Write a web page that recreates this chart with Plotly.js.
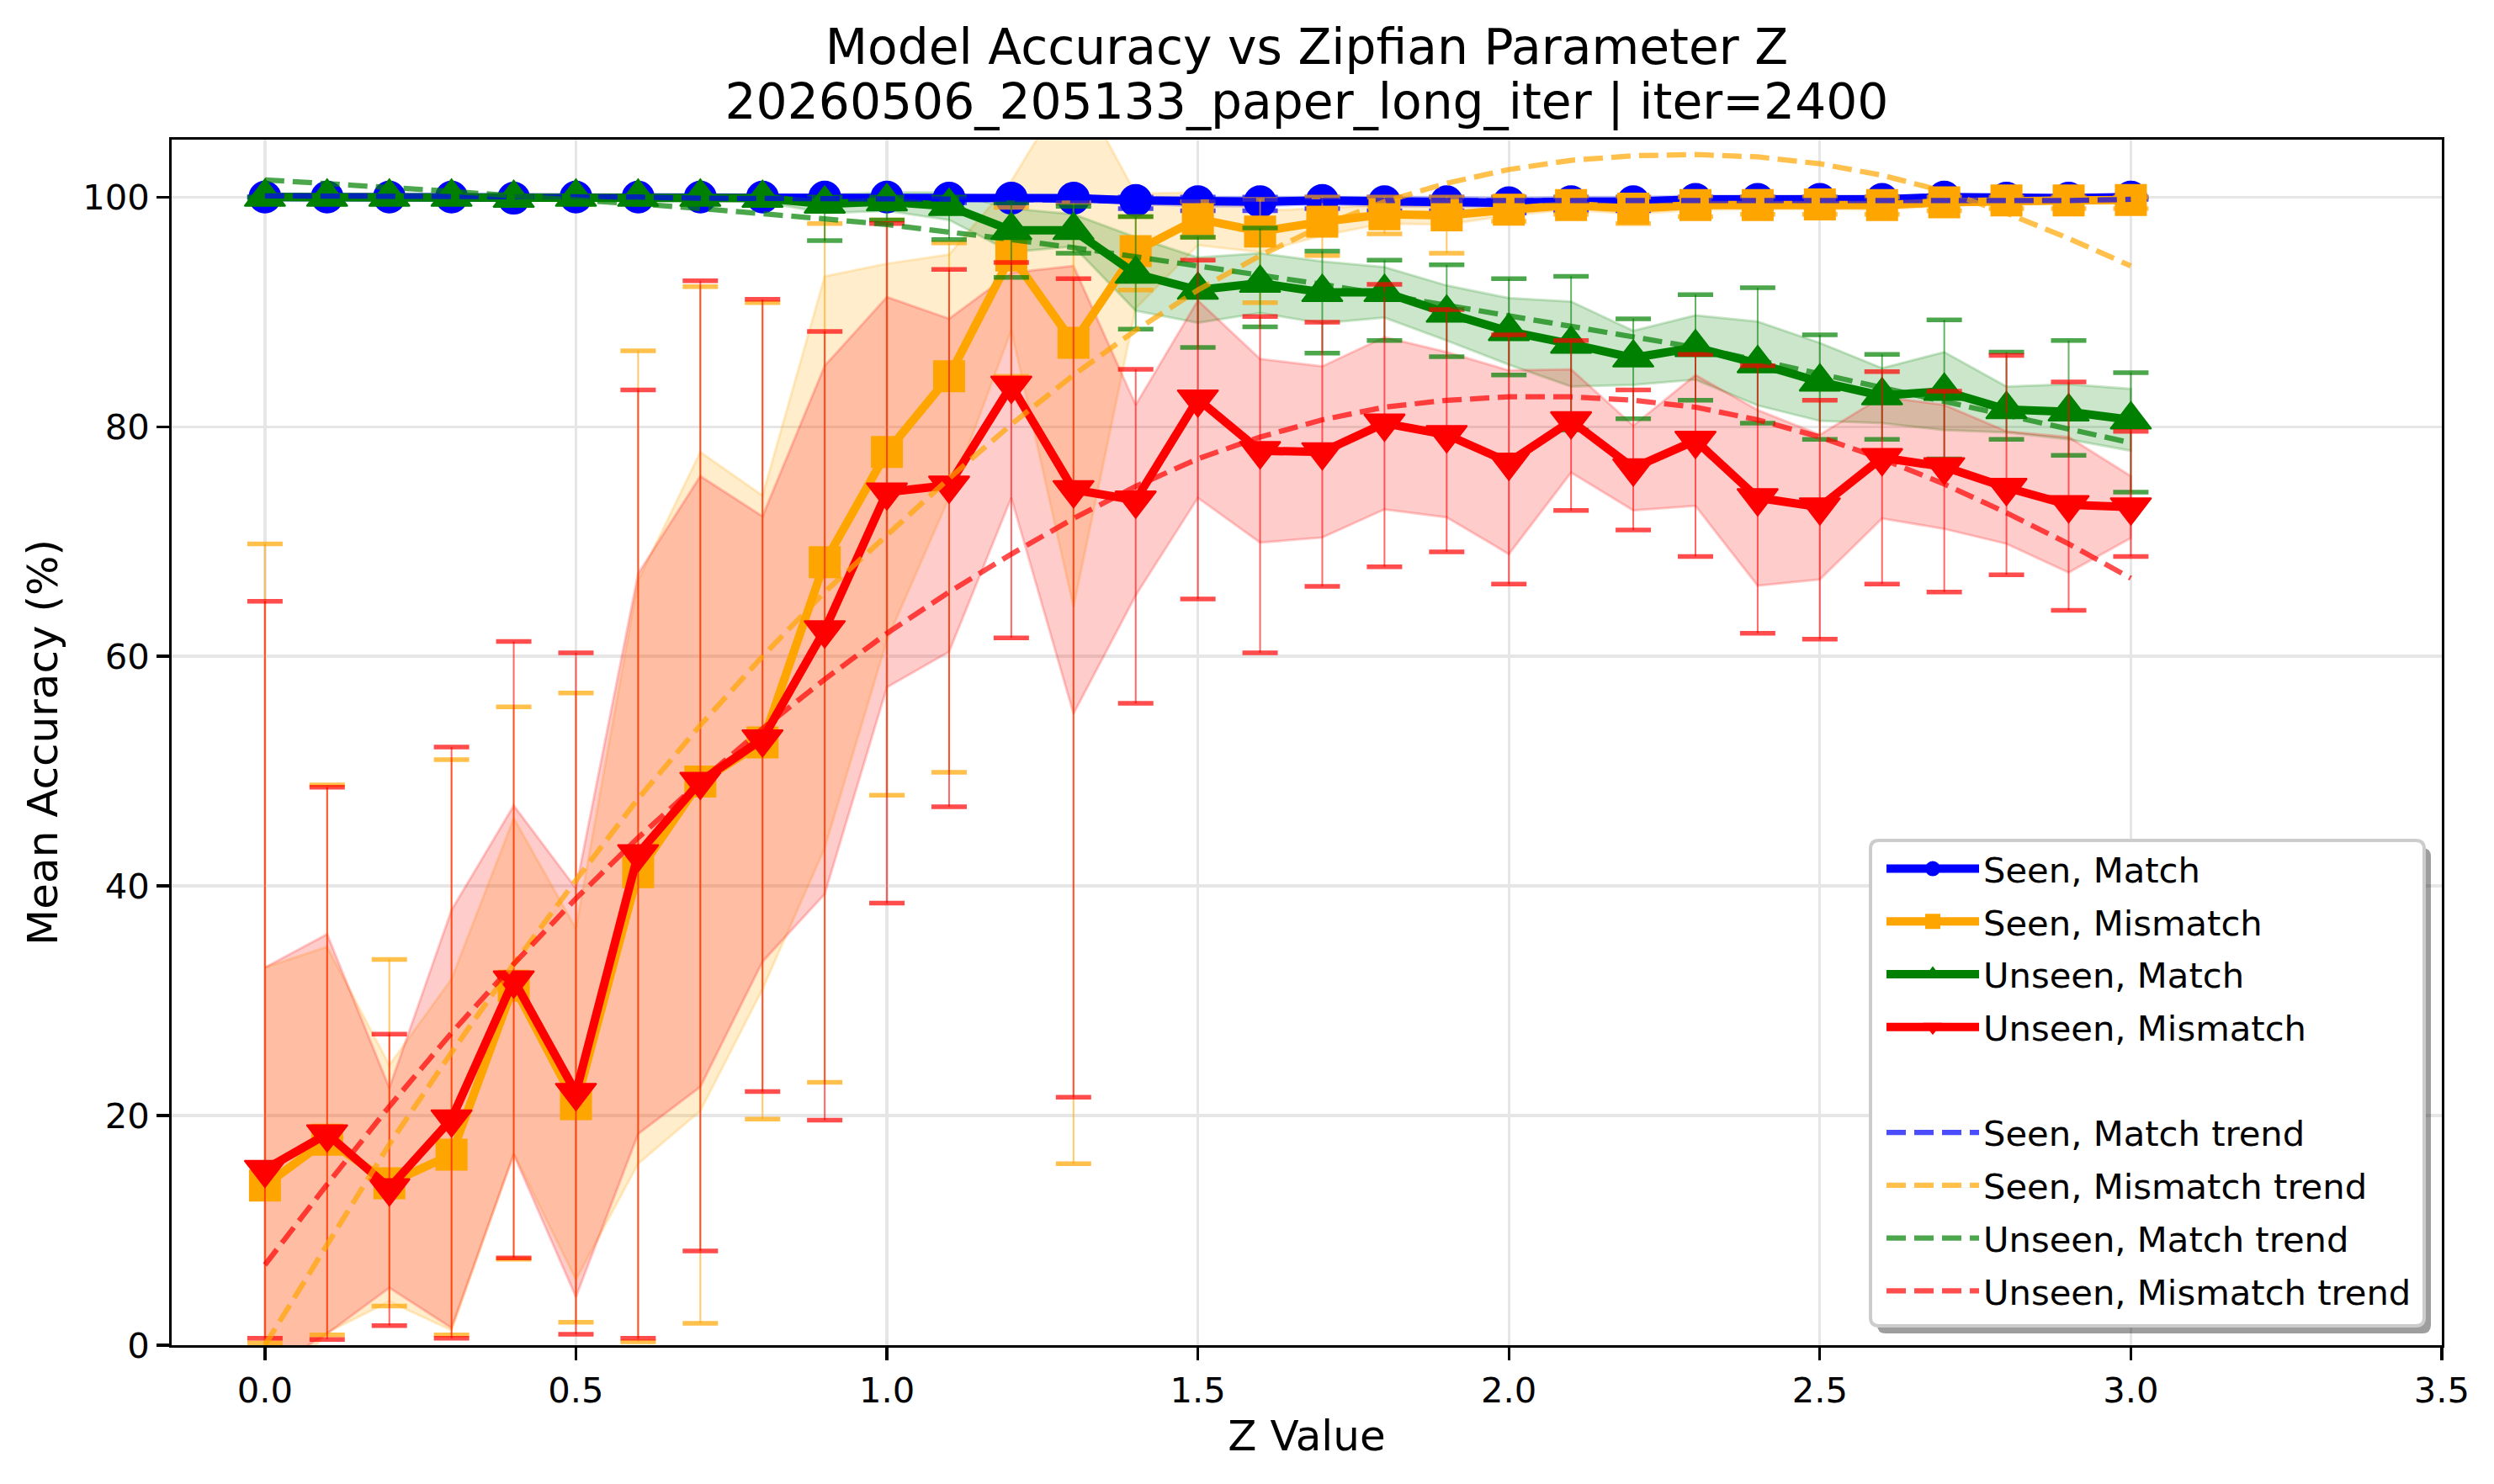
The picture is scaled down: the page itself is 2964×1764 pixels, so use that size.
<!DOCTYPE html>
<html>
<head>
<meta charset="utf-8">
<script src="https://cdn.plot.ly/plotly-3.0.1.min.js"></script>
<style>
  html, body { margin: 0; padding: 0; background: #ffffff; }
  #chart { width: 2964px; height: 1764px; }
</style>
</head>
<body>
<div id="chart"></div>
<script>
// ---------------- DATA ----------------
const zValues = [0.0,0.1,0.2,0.3,0.4,0.5,0.6,0.7,0.8,0.9,1.0,1.1,1.2,1.3,1.4,1.5,1.6,1.7,1.8,1.9,2.0,2.1,2.2,2.3,2.4,2.5,2.6,2.7,2.8,2.9,3.0];

const seriesNames = ["Seen, Match", "Seen, Mismatch", "Unseen, Match", "Unseen, Mismatch"];
const titleLine1 = "Model Accuracy vs Zipfian Parameter Z";
const titleLine2 = "20260506_205133_paper_long_iter | iter=2400";

// Seen, Match
const seenMatchMean = [100,100,100,100,99.9,100,100,100,100,100,100,99.9,99.9,99.9,99.7,99.6,99.6,99.7,99.6,99.6,99.5,99.6,99.6,99.8,99.8,99.8,99.8,100,99.9,99.9,100];
const seenMatchBand = [0,0,0,0,0.2,0,0,0,0,0,0,0.2,0.2,0.2,0.3,0.4,0.4,0.3,0.4,0.4,0.4,0.4,0.4,0.3,0.3,0.3,0.3,0.1,0.2,0.2,0.1];
const seenMatchMin  = [100,100,100,100,99.5,100,100,100,100,100,100,99.5,99.5,99.5,99.0,98.8,98.8,99.0,98.8,98.8,98.6,98.8,98.8,99.2,99.2,99.2,99.2,99.8,99.6,99.6,99.8];
const seenMatchMax  = [100,100,100,100,100,100,100,100,100,100,100,100,100,100,100,100,100,100,100,100,100,100,100,100,100,100,100,100,100,100,100];
const seenMatchTrend = [100.1,100.1,100.1,100.0,100.0,100.0,100.0,99.9,99.9,99.9,99.8,99.8,99.8,99.7,99.7,99.7,99.6,99.6,99.6,99.6,99.6,99.6,99.6,99.6,99.6,99.6,99.6,99.7,99.7,99.7,99.8];

// Seen, Mismatch
const seenMismatchMean = [13.9,17.9,14.1,16.6,31.3,21.0,41.2,49.1,52.5,68.2,77.8,84.4,94.9,87.3,95.3,98.1,97.0,97.85,98.5,98.4,98.9,99.3,99.0,99.3,99.3,99.35,99.3,99.55,99.7,99.7,99.75];
const seenMismatchBand = [19,16.8,10.3,15.3,14.6,15.3,25.4,28.7,21.5,24.9,16.4,10.6,6.5,23,5,2.3,1.8,1.2,0.8,0.8,0.5,0.4,0.5,0.4,0.4,0.4,0.4,0.3,0.2,0.2,0.2];
const seenMismatchMin  = [0.2,0.9,3.4,0.9,7.5,2.0,0.3,1.9,19.7,22.9,47.9,49.9,84.4,15.8,91.9,96.5,90.8,94.9,96.8,95.1,97.9,98.5,97.7,98.3,98.5,98.5,98.5,98.8,99.0,99.0,99.0];
const seenMismatchMax  = [69.8,48.8,33.6,51.0,55.6,56.8,86.6,92.2,90.8,97.7,98.0,96.0,99.1,99.5,98.3,99.6,99.8,100,100,100,100,100,100,100,100,100,100,100,100,100,100];
const seenMismatchTrend = [0.0,8.8,17.5,25.5,33.2,40.5,47.6,54.0,60.0,65.6,70.6,75.5,80.2,84.5,88.4,91.9,94.9,97.5,99.6,101.2,102.4,103.2,103.6,103.7,103.5,102.9,101.9,100.5,98.6,96.4,94.0];

// Unseen, Match
const unseenMatchMean = [100,100,100,100,99.9,100,100,100,99.9,99.4,99.6,99.2,97.1,97.1,93.3,91.9,92.5,91.7,91.7,89.9,88.3,87.2,86.0,86.9,85.5,83.9,82.7,83.1,81.5,81.3,80.6];
const unseenMatchBand = [0.1,0.1,0.1,0.1,0.2,0.1,0.1,0.1,0.3,0.8,0.8,1.2,1.9,1.4,3.2,2.85,2.6,2.7,2.2,2.4,2.9,3.7,2.35,2.8,3.65,3.4,2.4,3.4,2.0,2.4,2.7];
const unseenMatchMin  = [99.6,99.6,99.6,99.6,99.4,99.6,99.6,99.6,99.4,96.2,98.0,96.3,93.0,95.1,88.5,86.9,88.7,86.4,87.5,86.1,84.5,79.7,80.7,82.3,80.3,78.9,78.9,77.2,78.9,77.5,74.3];
const unseenMatchMax  = [100,100,100,100,100,100,100,100,100,100,100,100,99.5,99.2,98.3,96.5,97.3,95.3,94.5,94.1,92.9,93.1,89.4,91.5,92.1,88.0,86.3,89.3,86.5,87.5,84.7];
const unseenMatchTrend = [101.5,101.2,100.8,100.5,100.1,99.8,99.4,99.0,98.6,98.1,97.6,97.0,96.3,95.6,94.8,94.0,93.3,92.4,91.5,90.6,89.7,88.7,87.8,86.9,85.8,84.6,83.4,82.2,81.0,79.8,78.6];

// Unseen, Mismatch
const unseenMismatchMean = [15.3,18.4,13.7,19.7,31.8,22.0,42.8,49.1,52.8,62.3,74.3,74.9,83.6,74.5,73.6,82.4,77.9,77.8,80.3,79.3,76.9,80.5,76.4,78.8,73.8,73.0,77.3,76.5,74.7,73.2,73.0];
const unseenMismatchBand = [17.6,17.4,8.7,18.2,15.2,17.8,24.4,26.6,19.4,23.0,17.0,14.5,9.8,19.5,8.3,8.6,8.0,7.45,7.5,7.2,8.0,4.5,3.7,5.7,7.65,6.3,5.3,5.4,4.9,5.9,2.7];
const unseenMismatchMin  = [0.6,0.5,1.7,0.6,7.6,0.95,0.6,8.2,22.1,19.6,38.5,46.9,61.6,21.6,55.9,65.0,60.3,66.1,67.8,69.1,66.3,72.7,71.0,68.7,62.0,61.5,66.3,65.6,67.1,64.0,68.7];
const unseenMismatchMax  = [64.8,48.6,27.1,52.1,61.3,60.3,83.2,92.7,91.1,88.3,97.7,93.7,94.3,92.9,85.0,94.5,89.6,89.1,92.4,90.2,88.0,87.5,83.2,86.3,85.3,82.3,84.8,83.1,86.2,83.9,79.6];
const unseenMismatchTrend = [7.0,14.0,20.8,27.2,33.2,38.9,44.2,49.1,53.7,58.0,62.0,65.6,68.9,72.0,74.8,77.2,79.1,80.6,81.7,82.3,82.6,82.6,82.3,81.7,80.6,79.1,77.2,75.0,72.5,69.8,66.8];

const xTickVals = [0.0,0.5,1.0,1.5,2.0,2.5,3.0,3.5];
const yTickVals = [0,20,40,60,80,100];

// ---------------- STYLE ----------------
const FONT = "DejaVu Sans";
const W = 2964, H = 1764;
const M = {l: 204, r: 62, t: 166, b: 165};
const PW = W - M.l - M.r, PH = H - M.t - M.b;

const series = [
  {name: seriesNames[0], mean: seenMatchMean, band: seenMatchBand, mn: seenMatchMin, mx: seenMatchMax, trend: seenMatchTrend,
   rgb: "0,0,255", color: "#0000ff", symbol: "circle", size: 37},
  {name: seriesNames[1], mean: seenMismatchMean, band: seenMismatchBand, mn: seenMismatchMin, mx: seenMismatchMax, trend: seenMismatchTrend,
   rgb: "255,165,0", color: "#ffa500", symbol: "square", size: 36},
  {name: seriesNames[2], mean: unseenMatchMean, band: unseenMatchBand, mn: unseenMatchMin, mx: unseenMatchMax, trend: unseenMatchTrend,
   rgb: "0,128,0", color: "#008000", symbol: "triangle-up", size: 42},
  {name: seriesNames[3], mean: unseenMismatchMean, band: unseenMismatchBand, mn: unseenMismatchMin, mx: unseenMismatchMax, trend: unseenMismatchTrend,
   rgb: "255,0,0", color: "#ff0000", symbol: "triangle-down", size: 42},
];

const traces = [];

// shaded bands (mean +/- spread)
series.forEach((s, i) => {
  const up = s.mean.map((m, k) => m + s.band[k]);
  const lo = s.mean.map((m, k) => m - s.band[k]);
  traces.push({
    type: "scatter", mode: "lines",
    x: zValues.concat(zValues.slice().reverse()),
    y: up.concat(lo.slice().reverse()),
    fill: "toself", fillcolor: `rgba(${s.rgb},0.2)`,
    line: {color: `rgba(${s.rgb},0.2)`, width: 3},
    hoverinfo: "skip", showlegend: false, legendgroup: "g" + i
  });
});

// error bars, caps and main lines
series.forEach((s, i) => {
  traces.push({
    type: "scatter", mode: "markers",
    x: zValues, y: s.mean,
    marker: {size: 1, opacity: 0},
    error_y: {
      type: "data", symmetric: false,
      array: s.mx.map((v, k) => v - s.mean[k]),
      arrayminus: s.mean.map((m, k) => m - s.mn[k]),
      color: `rgba(${s.rgb},0.6)`, thickness: 2, width: 0
    },
    hoverinfo: "skip", showlegend: false, legendgroup: "g" + i
  });
  traces.push({
    type: "scatter", mode: "markers",
    x: zValues.concat(zValues), y: s.mn.concat(s.mx),
    marker: {symbol: "line-ew", size: 30, line: {width: 5.5, color: `rgba(${s.rgb},0.7)`}},
    hoverinfo: "skip", showlegend: false, legendgroup: "g" + i
  });
  traces.push({
    type: "scatter", mode: "lines+markers",
    name: s.name, x: zValues, y: s.mean,
    line: {color: s.color, width: 10},
    marker: {symbol: s.symbol, size: s.size, color: s.color, line: {width: 2, color: s.color}},
    legendgroup: "g" + i, legendrank: i + 1
  });
});

// blank legend spacer
traces.push({
  type: "scatter", mode: "lines", x: [null], y: [null], name: " ",
  line: {color: "rgba(0,0,0,0)", width: 1}, hoverinfo: "skip",
  legendgroup: "blank", legendrank: 5
});

// trend lines
series.forEach((s, i) => {
  traces.push({
    type: "scatter", mode: "lines",
    name: s.name + " trend", x: zValues, y: s.trend,
    line: {color: `rgba(${s.rgb},0.7)`, width: 6.25, dash: "23px,10px"},
    legendgroup: "t" + i, legendrank: 6 + i
  });
});

// legend frame (rounded) + shadow drawn as paper shapes
function px2paperX(px) { return (px - M.l) / PW; }
function px2paperY(py) { return (H - M.b - py) / PH; }
function roundedPath(x0, y0, x1, y1, r) {
  const P = (x, y) => px2paperX(x).toFixed(5) + "," + px2paperY(y).toFixed(5);
  return "M" + P(x0 + r, y0) + " L" + P(x1 - r, y0) + " Q" + P(x1, y0) + " " + P(x1, y0 + r) +
         " L" + P(x1, y1 - r) + " Q" + P(x1, y1) + " " + P(x1 - r, y1) +
         " L" + P(x0 + r, y1) + " Q" + P(x0, y1) + " " + P(x0, y1 - r) +
         " L" + P(x0, y0 + r) + " Q" + P(x0, y0) + " " + P(x0 + r, y0) + " Z";
}
const LB = {x0: 2223, y0: 999, x1: 2881, y1: 1576};
const shapes = [
  {type: "path", xref: "paper", yref: "paper", layer: "above",
   path: roundedPath(LB.x0 + 8, LB.y0 + 9, LB.x1 + 8, LB.y1 + 9, 10),
   fillcolor: "rgba(0,0,0,0.38)", line: {width: 0}},
  {type: "path", xref: "paper", yref: "paper", layer: "above",
   path: roundedPath(LB.x0, LB.y0, LB.x1, LB.y1, 10),
   fillcolor: "rgba(255,255,255,1)", line: {color: "#cccccc", width: 4}},
];

const axisCommon = {
  showline: true, linecolor: "#000000", linewidth: 3.3, mirror: true,
  ticks: "outside", ticklen: 14.6, tickwidth: 3.3, tickcolor: "#000000",
  showgrid: true, gridcolor: "#e6e6e6", gridwidth: 3.3, zeroline: false,
  tickfont: {family: FONT, size: 41.7, color: "#000000"},
};

// Two-line title: glyphs at 58.3px, line pitch set by a 50px base font (1.3em = 65px)
const titleSpan = t => '<span style="font-size:58.3px">' + t + '</span>';

const layout = {
  width: W, height: H,
  margin: {l: M.l, r: M.r, t: M.t, b: M.b, pad: 0},
  paper_bgcolor: "#ffffff", plot_bgcolor: "#ffffff",
  font: {family: FONT, color: "#000000"},
  title: {
    text: titleSpan(titleLine1) + "<br>" + titleSpan(titleLine2),
    font: {family: FONT, size: 50, color: "#000000"},
    x: 0.5, xref: "paper", xanchor: "center",
    y: 1 - 76 / H, yref: "container", yanchor: "middle"
  },
  xaxis: Object.assign({}, axisCommon, {
    range: [-0.15, 3.5], tickvals: xTickVals, tickformat: ".1f",
    title: {text: "Z Value", font: {family: FONT, size: 50, color: "#000000"}, standoff: 14}
  }),
  yaxis: Object.assign({}, axisCommon, {
    range: [0, 105], tickvals: yTickVals,
    title: {text: "Mean Accuracy (%)", font: {family: FONT, size: 50, color: "#000000"}, standoff: 14}
  }),
  showlegend: true,
  legend: {
    x: px2paperX(2237), y: px2paperY(999), xanchor: "left", yanchor: "top",
    bgcolor: "rgba(0,0,0,0)", borderwidth: 0,
    font: {family: FONT, size: 41.7, color: "#000000"},
    itemwidth: 110, tracegroupgap: 5.5, traceorder: "grouped",
    itemclick: false, itemdoubleclick: false
  },
  shapes: shapes,
  hovermode: false
};

Plotly.newPlot("chart", traces, layout, {staticPlot: true, displayModeBar: false});
</script>
</body>
</html>
